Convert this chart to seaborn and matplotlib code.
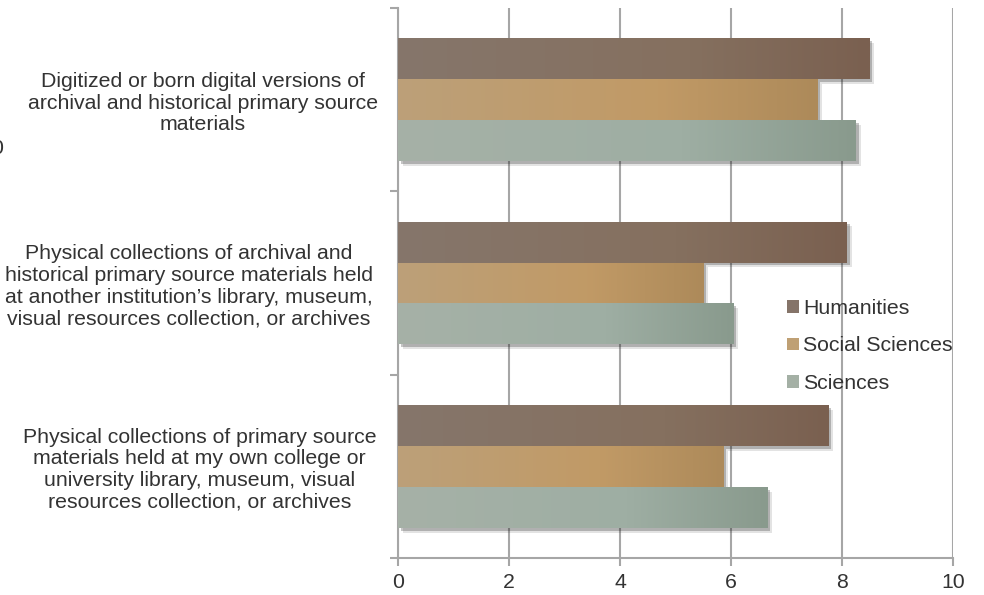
import numpy as np
import pandas as pd
import matplotlib
matplotlib.use("Agg")
import matplotlib.pyplot as plt
import matplotlib.patheffects as pe
import matplotlib.transforms as mtransforms
from matplotlib.colors import LinearSegmentedColormap
from matplotlib.patches import Patch
import seaborn as sns

# data
categories = [
    "Digitized or born digital versions of\narchival and historical primary source\nmaterials",
    "Physical collections of archival and\nhistorical primary source materials held\nat another institution\u2019s library, museum,\nvisual resources collection, or archives",
    "Physical collections of primary source\nmaterials held at my own college or\nuniversity library, museum, visual\nresources collection, or archives",
]
groups = ["Humanities", "Social Sciences", "Sciences"]
humanities = [8.49, 8.09, 7.75]
social_sciences = [7.55, 5.50, 5.86]
sciences = [8.25, 6.04, 6.65]
x_ticks = [0, 2, 4, 6, 8, 10]

# gradient stops per series (left, middle, right)
gradients = {
    "Humanities": ["#86766b", "#85705f", "#7a6050"],
    "Social Sciences": ["#bca079", "#c19a66", "#ad8a5a"],
    "Sciences": ["#a6b1a7", "#9eaea3", "#899a8d"],
}
legend_colors = {"Humanities": "#857469", "Social Sciences": "#bfa074", "Sciences": "#a4b0a5"}

df = pd.DataFrame({
    "category": categories * 3,
    "group": [g for g in groups for _ in categories],
    "value": humanities + social_sciences + sciences,
})

sns.set_theme(style="white")
plt.rcParams["font.family"] = ["Liberation Sans", "DejaVu Sans"]
text_color = "#333333"
grid_color = "#a6a6a6"
fs = 15.3

fig = plt.figure(figsize=(9.84, 5.95), dpi=100)
ax = fig.add_axes([398 / 984, 1 - 558 / 595, 555 / 984, 550 / 595])

sns.barplot(data=df, x="value", y="category", hue="group", order=categories,
            hue_order=groups, palette=[legend_colors[g] for g in groups],
            orient="h", width=0.67, dodge=True, legend=False, ax=ax,
            saturation=1, linewidth=0)

shadow = [pe.SimplePatchShadow(offset=(3.5, -3.5), shadow_rgbFace="k", alpha=0.12),
          pe.SimplePatchShadow(offset=(2, -2), shadow_rgbFace="k", alpha=0.25),
          pe.Normal()]

bars = list(ax.patches)
n = len(categories)
for i, bar in enumerate(bars):
    g = groups[i // n]
    bar.set_path_effects(shadow)
    bar.set_zorder(2)
    cmap = LinearSegmentedColormap.from_list(g, list(zip([0, 0.62, 1], gradients[g])))
    x0, y0 = bar.get_x(), bar.get_y()
    w, h = bar.get_width(), bar.get_height()
    img = ax.imshow(np.linspace(0, 1, 256).reshape(1, -1), cmap=cmap, aspect="auto",
                    extent=[x0, x0 + w, y0 + h, y0], zorder=3, interpolation="bilinear")
    img.set_clip_path(bar)

ax.set_xlim(0, 10)
ax.set_ylim(len(categories) - 0.5, -0.5)
ax.set_xticks(x_ticks)
ax.set_xticklabels([str(t) for t in x_ticks])
ax.set_yticks(range(len(categories)))
ax.set_yticklabels(categories, ha="center", multialignment="center", linespacing=1.18)
ax.set_yticks(np.arange(-0.5, len(categories)), minor=True)
ax.tick_params(axis="y", which="major", length=0, pad=145, labelsize=fs, labelcolor=text_color)
ax.tick_params(axis="y", which="minor", length=6, width=1.5, color=grid_color, direction="out", left=True)
ax.tick_params(axis="x", length=6, width=1.5, color=grid_color, direction="out", bottom=True,
               labelsize=fs, labelcolor=text_color, pad=5)
ax.set_xlabel("")
ax.set_ylabel("")

# nudge each category label sideways like the reference's wrapped text boxes
for lab, dx in zip(ax.get_yticklabels(), [6, -8, 3]):
    lab.set_transform(lab.get_transform() + mtransforms.ScaledTranslation(dx / 100, 0, fig.dpi_scale_trans))

ax.grid(axis="x", color=grid_color, linewidth=1.5, zorder=0)
ax.set_axisbelow(True)
for side in ["top", "right"]:
    ax.spines[side].set_visible(False)
for side in ["left", "bottom"]:
    ax.spines[side].set_color(grid_color)
    ax.spines[side].set_linewidth(1.5)

handles = [Patch(facecolor=legend_colors[g], edgecolor="none") for g in groups]
ax.legend(handles, groups, loc="upper left", bbox_to_anchor=(787 / 984, 1 - 299 / 595),
          bbox_transform=fig.transFigure, frameon=False, fontsize=fs,
          handlelength=0.55, handleheight=0.55, handletextpad=0.2, labelspacing=0.87,
          borderpad=0, borderaxespad=0, labelcolor=text_color)

# clipped fragment of a label at the left edge
fig.text(-3 / 984, 1 - 148 / 595, "0", ha="center", va="center", fontsize=fs, color=text_color)

fig.savefig("out.png", dpi=100)
